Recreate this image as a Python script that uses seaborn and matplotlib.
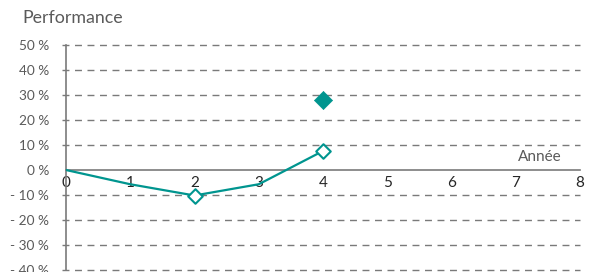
import matplotlib
matplotlib.use("Agg")
import matplotlib.pyplot as plt
import seaborn as sns
import pandas as pd

years = [0, 1, 2, 3, 4]
perf = [0.0, -5.7, -10.2, -5.7, 7.6]
open_marker_years = [2, 4]
open_marker_vals = [-10.2, 7.6]
target_year = [4]
target_val = [28.0]
yticks = [-40, -30, -20, -10, 0, 10, 20, 30, 40, 50]
xticks = [0, 1, 2, 3, 4, 5, 6, 7, 8]

teal = "#00958f"
grey = "#5a5a5a"
axgrey = "#7a7a7a"

sns.set_theme(style="white")
plt.rcParams['font.family'] = ['Lato', 'DejaVu Sans']

fig = plt.figure(figsize=(5.89, 2.72), dpi=100)
ax = fig.add_axes([66/589, 2/272, 514/589, 225/272])

df = pd.DataFrame({"year": years, "perf": perf})
sns.lineplot(data=df, x="year", y="perf", ax=ax, color=teal, lw=1.6, zorder=3)
sns.scatterplot(x=open_marker_years, y=open_marker_vals, ax=ax, marker="D", s=55,
                facecolor="white", edgecolor=teal, linewidth=1.5, zorder=4)
sns.scatterplot(x=target_year, y=target_val, ax=ax, marker="D", s=85,
                color=teal, edgecolor=teal, linewidth=0.5, zorder=4)

ax.set_xlim(0, 8)
ax.set_ylim(-40, 50)
for yv in yticks:
    if yv != 0:
        ax.axhline(yv, color=axgrey, lw=1.0, ls=(0, (5, 4)), zorder=1, clip_on=False,
                   xmin=-0.008)
ax.set_yticks(yticks)
ax.set_yticklabels([("- " if v < 0 else "") + f"{abs(v)} %" for v in yticks],
                   color=grey, fontsize=9.8)
ax.set_xticks(xticks)
ax.set_xticklabels([str(v) for v in xticks], color=grey, fontsize=11)

for s in ["top", "right", "bottom"]:
    ax.spines[s].set_visible(False)
ax.spines["left"].set_color(axgrey)
ax.spines["left"].set_linewidth(1.2)
ax.spines["bottom"].set_visible(True)
ax.spines["bottom"].set_position(("data", 0))
ax.spines["bottom"].set_color(axgrey)
ax.spines["bottom"].set_linewidth(1.2)
ax.tick_params(axis="x", direction="out", length=5, width=1.2, color=axgrey, pad=-1)
ax.tick_params(axis="y", direction="out", length=0, pad=12)
ax.set_xlabel("")
ax.set_ylabel("")

ax.text(7.37, 2.5, "Année", color=grey, fontsize=11, ha="center", va="bottom")
fig.text(22/589, 1 - 18/272, "Performance", color=grey, fontsize=12.8, ha="left", va="center")

fig.savefig("out.png", dpi=100)
